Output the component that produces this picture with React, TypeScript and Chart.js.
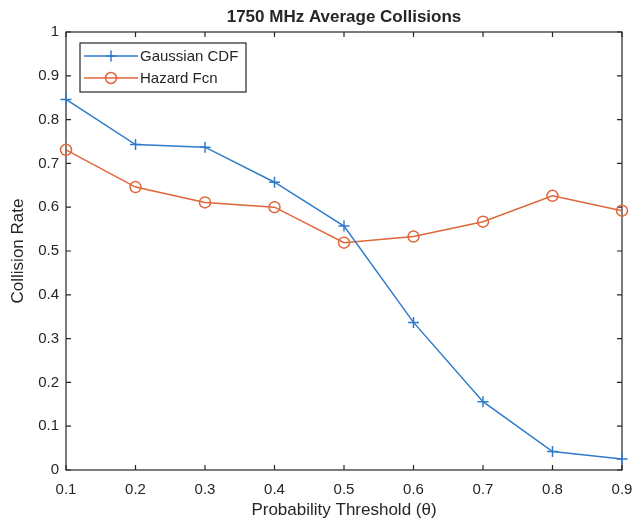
import React, { useEffect, useRef } from "react";
import { Chart, registerables } from "chart.js";

Chart.register(...registerables);

const thresholds = [0.1, 0.2, 0.3, 0.4, 0.5, 0.6, 0.7, 0.8, 0.9];
const gaussianCdf = [0.846, 0.743, 0.737, 0.657, 0.557, 0.337, 0.156, 0.042, 0.025];
const hazardFcn = [0.731, 0.646, 0.611, 0.6, 0.519, 0.533, 0.567, 0.626, 0.592];
const seriesLabels = ["Gaussian CDF", "Hazard Fcn"];
const titleText = "1750 MHz Average Collisions";
const xTitle = "Probability Threshold (\u03B8)";
const yTitle = "Collision Rate";

const BLUE = "#2f7bcb";
const ORANGE = "#e0663a";
const AXIS = "#262626";
const FONT = "'Liberation Sans', Arial, Helvetica, sans-serif";

const boxPlugin = {
  id: "matlabBox",
  beforeDatasetsDraw(chart: any) {
    const { ctx, chartArea } = chart;
    const { left, right, top, bottom } = chartArea;
    ctx.save();
    ctx.strokeStyle = AXIS;
    ctx.lineWidth = 1.2;
    ctx.strokeRect(left, top, right - left, bottom - top);
    const tl = 5;
    const xs = chart.scales.x;
    xs.ticks.forEach((t: any) => {
      const px = xs.getPixelForValue(t.value);
      ctx.beginPath();
      ctx.moveTo(px, bottom);
      ctx.lineTo(px, bottom - tl);
      ctx.moveTo(px, top);
      ctx.lineTo(px, top + tl);
      ctx.stroke();
    });
    const ys = chart.scales.y;
    ys.ticks.forEach((t: any) => {
      const py = ys.getPixelForValue(t.value);
      ctx.beginPath();
      ctx.moveTo(left, py);
      ctx.lineTo(left + tl, py);
      ctx.moveTo(right, py);
      ctx.lineTo(right - tl, py);
      ctx.stroke();
    });
    ctx.restore();
  },
};

const legendPlugin = {
  id: "matlabLegend",
  afterDraw(chart: any) {
    const { ctx } = chart;
    const bx = 80, by = 43, bw = 166, bh = 49;
    ctx.save();
    ctx.fillStyle = "#ffffff";
    ctx.fillRect(bx, by, bw, bh);
    ctx.strokeStyle = AXIS;
    ctx.lineWidth = 1.2;
    ctx.strokeRect(bx, by, bw, bh);
    const rows = [56, 78];
    chart.data.datasets.forEach((ds: any, i: number) => {
      const y = rows[i];
      ctx.strokeStyle = ds.borderColor;
      ctx.lineWidth = 1.5;
      ctx.beginPath();
      ctx.moveTo(84, y);
      ctx.lineTo(138, y);
      ctx.stroke();
      const cx = 111;
      ctx.beginPath();
      if (ds.pointStyle === "cross") {
        ctx.moveTo(cx - 5.5, y);
        ctx.lineTo(cx + 5.5, y);
        ctx.moveTo(cx, y - 5.5);
        ctx.lineTo(cx, y + 5.5);
      } else {
        ctx.arc(cx, y, 5.5, 0, Math.PI * 2);
      }
      ctx.stroke();
      ctx.fillStyle = AXIS;
      ctx.font = `15px ${FONT}`;
      ctx.textBaseline = "middle";
      ctx.textAlign = "left";
      ctx.fillText(ds.label, 140, y + 1);
    });
    ctx.restore();
  },
};

export default function App() {
  const ref = useRef<HTMLCanvasElement | null>(null);
  useEffect(() => {
    if (!ref.current) return;
    const chart = new Chart(ref.current, {
      type: "line",
      data: {
        datasets: [
          {
            label: seriesLabels[0],
            data: thresholds.map((x, i) => ({ x, y: gaussianCdf[i] })),
            borderColor: BLUE,
            backgroundColor: BLUE,
            borderWidth: 1.5,
            pointStyle: "cross",
            pointRadius: 5.5,
            pointBorderWidth: 1.5,
            pointBorderColor: BLUE,
            fill: false,
            tension: 0,
            clip: false as any,
          },
          {
            label: seriesLabels[1],
            data: thresholds.map((x, i) => ({ x, y: hazardFcn[i] })),
            borderColor: ORANGE,
            backgroundColor: "rgba(0,0,0,0)",
            borderWidth: 1.5,
            pointStyle: "circle",
            pointRadius: 5.5,
            pointBorderWidth: 1.5,
            pointBorderColor: ORANGE,
            pointBackgroundColor: "rgba(0,0,0,0)",
            fill: false,
            tension: 0,
            clip: false as any,
          },
        ],
      },
      options: {
        responsive: false,
        animation: false,
        layout: { padding: { left: 0, right: 13, top: 0, bottom: 0 } },
        plugins: {
          legend: { display: false },
          tooltip: { enabled: false },
          title: {
            display: true,
            text: titleText,
            fullSize: false,
            color: AXIS,
            font: { family: FONT, size: 17, weight: "bold" },
            padding: { top: 7, bottom: 4.6 },
          },
        },
        scales: {
          x: {
            type: "linear",
            position: "bottom",
            min: 0.1,
            max: 0.9,
            afterFit: (s: any) => {
              s.height = 54;
              s.paddingLeft = 0;
              s.paddingRight = 0;
            },
            grid: { display: false, drawTicks: false },
            border: { display: false },
            ticks: {
              stepSize: 0.1,
              padding: 11,
              color: AXIS,
              font: { family: FONT, size: 15 },
              maxRotation: 0,
              callback: (v: any) => Number(v).toFixed(1),
            },
            title: {
              display: true,
              text: xTitle,
              color: AXIS,
              font: { family: FONT, size: 17 },
              padding: { top: 3, bottom: 3 },
            },
          },
          y: {
            type: "linear",
            min: 0,
            max: 1,
            afterFit: (s: any) => {
              s.width = 66;
              s.paddingTop = 0;
              s.paddingBottom = 0;
            },
            grid: { display: false, drawTicks: false },
            border: { display: false },
            ticks: {
              stepSize: 0.1,
              padding: 7,
              color: AXIS,
              font: { family: FONT, size: 15 },
              callback: (v: any) => String(Math.round(Number(v) * 10) / 10),
            },
            title: {
              display: true,
              text: yTitle,
              color: AXIS,
              font: { family: FONT, size: 17 },
              padding: { top: 8, bottom: 0 },
            },
          },
        },
      },
      plugins: [boxPlugin, legendPlugin],
    });
    return () => chart.destroy();
  }, []);
  return (
    <div style={{ position: "absolute", left: 0, top: 0, width: 635, height: 524, background: "#fff" }}>
      <canvas ref={ref} width={635} height={524} />
    </div>
  );
}
